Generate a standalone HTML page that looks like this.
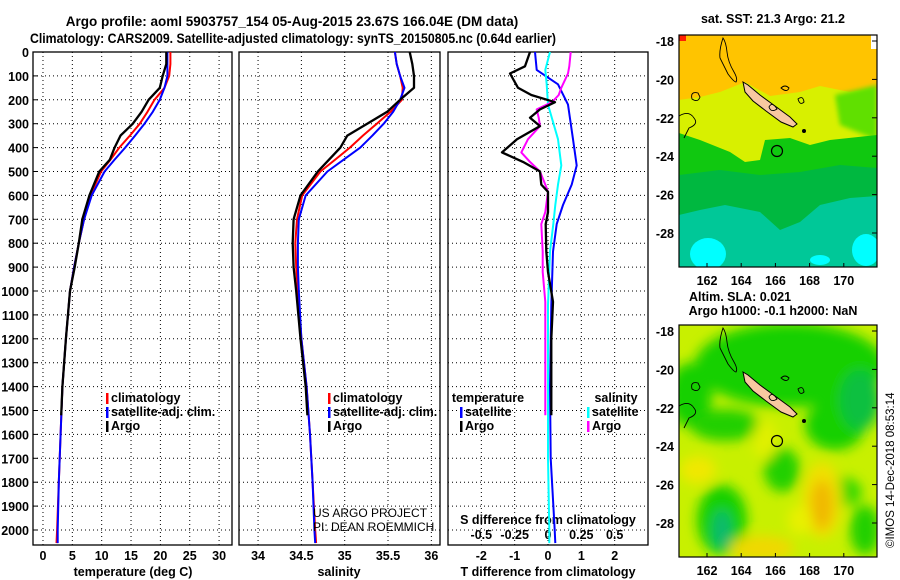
<!DOCTYPE html>
<html><head><meta charset="utf-8"><style>
html,body{margin:0;padding:0;background:#fff;}
svg{display:block;font-family:"Liberation Sans",sans-serif;font-weight:bold;}
</style></head><body>
<svg id="fig" width="900" height="580" viewBox="0 0 900 580">
<defs>
<filter id="blur6" x="-20%" y="-20%" width="140%" height="140%"><feGaussianBlur stdDeviation="6"/></filter>
<filter id="blur3"><feGaussianBlur stdDeviation="2.5"/></filter>
<clipPath id="clipMap1"><rect x="679" y="35" width="198" height="232"/></clipPath>
<clipPath id="clipMap2"><rect x="679" y="325" width="198" height="232"/></clipPath>
</defs>
<text x="292" y="26" font-size="13.5" text-anchor="middle">Argo profile: aoml 5903757_154 05-Aug-2015 23.67S 166.04E (DM data)</text>
<text x="30" y="43" font-size="13.5" textLength="526" lengthAdjust="spacingAndGlyphs">Climatology: CARS2009. Satellite-adjusted climatology: synTS_20150805.nc (0.64d earlier)</text>
<g id="axes"></g>
<g id="maps"></g>
<text x="0" y="0" font-size="11.5" font-weight="normal" transform="translate(894,548) rotate(-90)">©IMOS 14-Dec-2018 08:53:14</text>
</svg>
<script>
// ---- data ----
const argoDepths = [0,50,100,150,200,250,300,350,400,450,500,600,700,800,900,1000,1200,1400,1520];
const tempArgo = [21.0,21.0,20.4,19.9,18.0,16.8,15.3,13.2,12.2,11.4,9.6,7.9,6.7,6.1,5.4,4.6,3.9,3.3,3.1];
const salArgo = [35.75,35.78,35.8,35.8,35.64,35.49,35.26,35.03,34.95,34.82,34.69,34.49,34.41,34.40,34.41,34.44,34.49,34.55,34.57];
const climDepths = [0,50,100,150,200,250,300,350,400,450,500,600,700,800,900,1000,1200,1400,1600,1800,2000,2055];
const tempClim = [21.7,21.7,21.5,20.7,19.0,17.8,16.5,14.8,13.0,11.5,9.9,8.1,7.0,6.1,5.3,4.6,3.9,3.3,3.0,2.7,2.4,2.3];
const tempSat = [21.2,21.2,21.2,20.7,19.9,18.7,17.3,15.7,14.0,12.2,10.5,8.3,7.0,6.1,5.3,4.6,3.9,3.3,3.0,2.7,2.5,2.5];
const salClim = [35.58,35.6,35.64,35.67,35.66,35.53,35.37,35.21,35.06,34.89,34.72,34.51,34.45,34.43,34.44,34.46,34.5,34.56,34.6,34.63,34.66,34.67];
const salSat = [35.58,35.6,35.64,35.69,35.64,35.56,35.45,35.32,35.18,34.99,34.80,34.55,34.47,34.46,34.46,34.47,34.5,34.56,34.6,34.63,34.65,34.66];
const diffDepths = [0,60,90,150,180,210,240,275,310,365,420,460,500,555,585,670,720,835,920,1045,1200,1400,1520];
const tDiffArgo = [-0.54,-0.69,-1.14,-0.9,-0.5,0.21,-0.24,-0.54,-0.24,-0.93,-1.38,-0.75,-0.24,-0.2,0,0,-0.07,-0.05,0.0,0.15,0.1,0.1,0.1];
const sDiffArgo = [0.17,0.16,0.15,0.1,0.08,0.03,-0.085,-0.07,-0.06,-0.15,-0.2,-0.135,-0.06,-0.02,0,-0.02,-0.05,-0.04,-0.04,-0.02,-0.02,-0.02,-0.02];
const satDiffDepths = [0,75,135,220,365,475,555,640,720,835,1060,1400,1700,2000,2055];
const tDiffSat = [-0.39,-0.34,0.3,0.6,0.75,0.86,0.71,0.45,0.26,0.15,0.1,0.06,0.08,0.2,0.22];
const sDiffSat = [0.015,-0.02,-0.01,0,0.075,0.1,0.075,0.055,0.04,0.015,0,0,0,0.01,0.01];
const depthTicks = [0,100,200,300,400,500,600,700,800,900,1000,1100,1200,1300,1400,1500,1600,1700,1800,1900,2000];
const tempTicks = [0,5,10,15,20,25,30];
const salTicks = [34,34.5,35,35.5,36];
const salTickLabels = ["34","34.5","35","35.5","36"];
const tDiffTicks = [-2,-1,0,1,2];
const sDiffTicks = [-0.5,-0.25,0,0.25,0.5];
const sDiffTickLabels = ["-0.5","-0.25","0","0.25","0.5"];

const NS="http://www.w3.org/2000/svg";
function mk(tag,attrs,parent,text){const e=document.createElementNS(NS,tag);for(const k in attrs)e.setAttribute(k,attrs[k]);if(text!==undefined)e.textContent=text;parent.appendChild(e);return e;}
const axes=document.getElementById('axes');
const TOP=52, BOT=545;
function yD(d){return TOP + d*0.239;}
function linScale(v0,v1,p0,p1){return v=>p0+(v-v0)*(p1-p0)/(v1-v0);}
const panels=[
 {x0:33,x1:232,sx:linScale(-1.7,32.2,33,232),name:'temperature'},
 {x0:239,x1:440,sx:linScale(33.78,36.1,239,440),name:'salinity'},
 {x0:448,x1:648,sx:linScale(-3,3,448,648),name:'difference'}
];
const sxS=linScale(-0.75,0.75,448,648);

panels.forEach((p,i)=>{
  const g=mk('g',{},axes);
  
  
  depthTicks.forEach(d=>{
    const l=mk('line',{x1:p.x0,x2:p.x1,y1:yD(d),y2:yD(d),stroke:'#000','stroke-width':1,'stroke-dasharray':'1,3'},g);
    
    
  });
  const xt = i===0?tempTicks:(i===1?salTicks:tDiffTicks);
  xt.forEach(v=>{
    const l=mk('line',{x1:p.sx(v),x2:p.sx(v),y1:TOP,y2:BOT,stroke:'#000','stroke-width':1,'stroke-dasharray':'1,3'},g);
    
    
  });
  const fr=mk('rect',{x:p.x0,y:TOP,width:p.x1-p.x0,height:BOT-TOP,fill:'none',stroke:'#000','stroke-width':1.3},g);
  
  
});
depthTicks.forEach(d=>{
  const t=mk('text',{x:29,y:yD(d)+5,'font-size':12.5,'text-anchor':'end'},axes,String(d));
  
  
  mk('line',{x1:33,x2:38,y1:yD(d),y2:yD(d),stroke:'#000'},axes);
});
function xLabels(ticks,labels,sx,y){
  ticks.forEach((v,k)=>{
    const t=mk('text',{x:sx(v),y:y,'font-size':12.5,'text-anchor':'middle'},axes,labels?labels[k]:String(v));
    
    
  });
}
xLabels(tempTicks,null,panels[0].sx,560);
xLabels(salTicks,salTickLabels,panels[1].sx,560);
xLabels(tDiffTicks,null,panels[2].sx,560);
xLabels(sDiffTicks,sDiffTickLabels,sxS,539);
function title(x,y,s,name){const t=mk('text',{x:x,y:y,'font-size':12.5,'text-anchor':'middle'},axes,s);}
title(133,576,'temperature (deg C)','temperature-axis-title');
title(339,576,'salinity','salinity-axis-title');
title(548,576,'T difference from climatology','t-diff-axis-title');
title(548,524,'S difference from climatology','s-diff-axis-title');

function profile(depths,vals,sx,color,name,w){
  const pts=depths.map((d,k)=>sx(vals[k]).toFixed(1)+','+yD(d).toFixed(1)).join(' ');
  const pl=mk('polyline',{points:pts,fill:'none',stroke:color,'stroke-width':w||2,'stroke-linejoin':'round'},axes);
  
  
}
profile(climDepths,tempClim,panels[0].sx,'#ff0000','temp-climatology-line');
profile(climDepths,tempSat,panels[0].sx,'#0000ff','temp-satellite-line');
profile(argoDepths,tempArgo,panels[0].sx,'#000000','temp-argo-line',2.3);
profile(climDepths,salClim,panels[1].sx,'#ff0000','sal-climatology-line');
profile(climDepths,salSat,panels[1].sx,'#0000ff','sal-satellite-line');
profile(argoDepths,salArgo,panels[1].sx,'#000000','sal-argo-line',2.3);
profile(satDiffDepths,tDiffSat,panels[2].sx,'#0000ff','tdiff-satellite-line');
profile(satDiffDepths,sDiffSat,sxS,'#00ffff','sdiff-satellite-line');
profile(diffDepths,sDiffArgo,sxS,'#ff00ff','sdiff-argo-line');
profile(diffDepths,tDiffArgo,panels[2].sx,'#000000','tdiff-argo-line',2.3);

function legend(x,y,items){
  items.forEach((it,k)=>{
    const yy=y+k*14;
    const g=mk('g',{},axes);
    
    
    mk('rect',{x:x,y:yy-9,width:2.5,height:11,fill:it[1]},g);
    mk('text',{x:x+5,y:yy,'font-size':12.5},g,it[0]);
  });
}
legend(106,402,[['climatology','#ff0000'],['satellite-adj. clim.','#0000ff'],['Argo','#000']]);
legend(328,402,[['climatology','#ff0000'],['satellite-adj. clim.','#0000ff'],['Argo','#000']]);
legend(460,416,[['satellite','#0000ff'],['Argo','#000']]);
legend(587,416,[['satellite','#00ffff'],['Argo','#ff00ff']]);
title(488,402,'temperature','legend-temperature-heading');
title(616,402,'salinity','legend-salinity-heading');
const c1=mk('text',{x:313,y:517,'font-size':12,'font-weight':'normal'},axes,'US ARGO PROJECT');

const c2=mk('text',{x:313,y:531,'font-size':12,'font-weight':'normal'},axes,'PI: DEAN ROEMMICH');


// ---- maps ----
const maps=document.getElementById('maps');
const lonTicks=[162,164,166,168,170];
const latTicks=[-18,-20,-22,-24,-26,-28];
function lonX(l){return 707+(l-162)*17.1;}
function island(g,dy){
  const p=mk('polygon',{points:[[743,82],[748,85],[760,95],[775,106],[790,117],[797,124],[793,127],[781,122],[766,111],[753,101],[745,92]].map(q=>q[0]+','+(q[1]+dy)).join(' '),fill:'#f8c8a0',stroke:'#000','stroke-width':1},g);
  
  mk('path',{d:`M723,${38+dy} q-4,12 -3,20 q4,8 8,16 q6,8 8,8 q2,-3 -2,-10 q-6,-10 -7,-20 q-1,-10 -4,-14 z M679,${116+dy} q10,-6 15,2 q5,6 -5,10 l-5,10 M698,${93+dy} q-8,-2 -6,6 q6,4 8,-2 z M777,${109+dy} q-5,-8 -8,-2 q2,6 8,2 z M798,${99+dy} q5,-4 6,3 q-4,4 -6,-3 z M781,${88+dy} q4,-4 8,0 q-2,5 -8,0 z`,fill:'none',stroke:'#000','stroke-width':0.9},g);
  mk('circle',{cx:804,cy:131+dy,r:2,fill:'#000'},g);
  const c=mk('circle',{cx:777,cy:151+dy,r:5.5,fill:'none',stroke:'#000','stroke-width':1.2},g);
  
}
function mapFrame(top,name){
  const g=mk('g',{},maps);
  
  
  return g;
}
function mapAxes(g,top){
  mk('rect',{x:679,y:top,width:198,height:232,fill:'none',stroke:'#000','stroke-width':1.2},g);
  lonTicks.forEach(l=>{mk('text',{x:lonX(l),y:top+250,'font-size':12.5,'text-anchor':'middle'},g,String(l));mk('line',{x1:lonX(l),x2:lonX(l),y1:top+232,y2:top+228,stroke:'#000'},g);});
  latTicks.forEach(l=>{const y=top+6+(-18-l)*19.2;mk('text',{x:674,y:y+5,'font-size':12.5,'text-anchor':'end'},g,String(l));mk('line',{x1:877,x2:872,y1:y,y2:y,stroke:'#000'},g);});
}
const m1=mapFrame(35,'sst-map');
const f1=mk('g',{'clip-path':'url(#clipMap1)'},m1);
mk('rect',{x:679,y:35,width:198,height:232,fill:'#ffc400'},f1);
mk('polygon',{points:'679,100 700,97 720,92 745,82 770,96 800,92 820,86 850,92 877,88 877,267 679,267',fill:'#d8f000'},f1);
mk('polygon',{points:'835,95 877,85 877,140 840,125',fill:'#60e000',filter:'url(#blur3)'},f1);
mk('polygon',{points:'679,133 700,140 730,152 745,162 760,160 765,140 790,138 810,145 830,140 877,135 877,267 679,267',fill:'#10c810'},f1);
mk('polygon',{points:'679,175 720,170 760,175 800,172 840,165 877,168 877,267 679,267',fill:'#00b840'},f1);
mk('polygon',{points:'679,215 700,210 725,205 760,212 780,230 800,222 820,205 850,198 877,196 877,267 679,267',fill:'#00c898'},f1);
mk('ellipse',{cx:708,cy:254,rx:18,ry:16,fill:'#00ffff'},f1);
mk('ellipse',{cx:866,cy:250,rx:14,ry:16,fill:'#00ffff'},f1);
mk('ellipse',{cx:820,cy:260,rx:10,ry:5,fill:'#00ffff'},f1);
mk('rect',{x:679,y:35,width:7,height:6,fill:'#ff2000'},f1);
mk('rect',{x:871,y:35,width:6,height:14,fill:'#fff'},f1);
island(f1,0);
mapAxes(m1,35);
title(773,23,'sat. SST: 21.3 Argo: 21.2','sst-map-title');
const m2=mapFrame(325,'sla-map');
const f2=mk('g',{'clip-path':'url(#clipMap2)'},m2);
mk('rect',{x:679,y:325,width:198,height:232,fill:'#c8f000'},f2);
const bl=mk('g',{filter:'url(#blur6)'},f2);
[[790,365,95,42,'#18d000'],[690,395,22,32,'#18d000'],[835,425,30,25,'#18d000'],[725,425,35,16,'#20d000'],
 [722,520,25,35,'#18d000'],[722,530,9,20,'#10b870'],[782,470,18,22,'#20d000'],[840,492,22,15,'#30d800'],
 [865,530,15,25,'#20d000'],[860,400,20,30,'#10c040'],
 [822,500,20,38,'#f0e000'],[822,505,11,25,'#f0b800'],[698,470,18,14,'#f0e800'],[762,548,32,12,'#f0d800'],
 [765,440,12,20,'#e0f000'],[800,520,12,15,'#e8f000']].forEach(b=>mk('ellipse',{cx:b[0],cy:b[1],rx:b[2],ry:b[3],fill:b[4]},bl));
island(f2,290);
mapAxes(m2,325);
title(740,301,'Altim. SLA: 0.021','sla-map-title');
title(773,315,'Argo h1000: -0.1 h2000: NaN','argo-height-label');
</script>
</body></html>
